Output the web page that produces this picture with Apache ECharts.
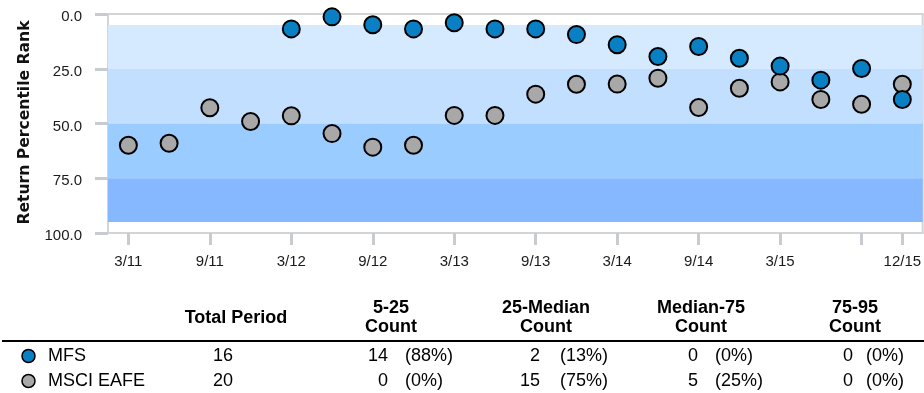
<!DOCTYPE html>
<html>
<head>
<meta charset="utf-8">
<script src="https://cdn.jsdelivr.net/npm/echarts@6/dist/echarts.min.js"></script>
<style>
html,body{margin:0;padding:0;background:#fff;}
#chart{width:924px;height:393px;}
</style>
</head>
<body>
<div id="chart"></div>
<script>
// ---- data ----
const quarters = ['3/11','6/11','9/11','12/11','3/12','6/12','9/12','12/12','3/13','6/13','9/13','12/13','3/14','6/14','9/14','12/14','3/15','6/15','9/15','12/15'];
const msciEafe = [59.9, 59.0, 42.8, 49.1, 46.5, 54.6, 60.8, 59.9, 46.3, 46.3, 36.6, 32.1, 32.0, 29.3, 42.7, 33.9, 31.0, 39.0, 41.2, 32.1];
const mfs = ['-', '-', '-', '-', 6.8, 1.3, 4.9, 6.8, 4.0, 6.8, 6.8, 9.4, 14.0, 19.4, 14.8, 20.2, 23.8, 30.2, 24.9, 39.0];
const seriesNames = ['MFS', 'MSCI EAFE'];
const bandEdges = [5, 25, 50, 75, 95];
const yMin = 0, yMax = 100, yStep = 25;
const tableHeaders = [['Total Period'], ['5-25', 'Count'], ['25-Median', 'Count'], ['Median-75', 'Count'], ['75-95', 'Count']];
const totalPeriod = [16, 20];
const countValues = [[14, 2, 0, 0], [0, 15, 5, 0]];
const countPercents = [['(88%)', '(13%)', '(0%)', '(0%)'], ['(0%)', '(75%)', '(25%)', '(0%)']];

// ---- styles / layout ----
const FONT = "'Liberation Sans', Arial, sans-serif";
const bandColors = ['#D5E9FF', '#C2DFFF', '#9ACCFF', '#85B8FF'];
const seriesColors = ['#0A80C4', '#A8A8A8'];
const axisGray = '#D2D4D6';
const tickGray = '#C8CCD0';

const bands = [];
for (let i = 0; i < bandEdges.length - 1; i++) {
  bands.push([{ yAxis: bandEdges[i], itemStyle: { color: bandColors[i] } }, { yAxis: bandEdges[i + 1] }]);
}

// ---- table graphics ----
const g = [];
function txt(text, x, y, align, bold) {
  g.push({ type: 'text', x: x, y: y, silent: true,
    style: { text: String(text), fill: '#000', font: (bold ? 'bold ' : '') + '18px ' + FONT, align: align, verticalAlign: 'middle' } });
}
const headerCx = [236, 391, 546, 701, 855];
tableHeaders.forEach((h, i) => {
  if (h.length === 1) txt(h[0], headerCx[i], 318, 'center', true);
  else { txt(h[0], headerCx[i], 308, 'center', true); txt(h[1], headerCx[i], 327, 'center', true); }
});
g.push({ type: 'line', silent: true, shape: { x1: 2, y1: 341, x2: 924, y2: 341 }, style: { stroke: '#000', lineWidth: 2 } });
const rowY = [356, 381];
const numRight = [388, 540, 698, 853];
const pctLeft = [405, 560, 715, 866];
seriesNames.forEach((name, r) => {
  g.push({ type: 'circle', silent: true, shape: { cx: 28.5, cy: rowY[r], r: 6.5 }, style: { fill: seriesColors[r], stroke: '#000', lineWidth: 1.5 } });
  txt(name, 48, rowY[r], 'left', false);
  txt(totalPeriod[r], 223, rowY[r], 'center', false);
  countValues[r].forEach((v, c) => {
    txt(v, numRight[c], rowY[r], 'right', false);
    txt(countPercents[r][c], pctLeft[c], rowY[r], 'left', false);
  });
});
g.push({ type: 'text', x: 25, y: 122.5, rotation: Math.PI / 2, silent: true,
  style: { text: 'Return Percentile Rank', fill: '#111', font: "bold 15.6px 'DejaVu Sans', sans-serif", align: 'center', verticalAlign: 'middle' } });

const chart = echarts.init(document.getElementById('chart'));
chart.setOption({
  animation: false,
  grid: { left: 108, right: -2, top: 14, bottom: 160, show: true, borderColor: axisGray, borderWidth: 2 },
  xAxis: {
    type: 'category', data: quarters, boundaryGap: true, position: 'bottom',
    axisLine: { show: true, onZero: false, lineStyle: { color: axisGray, width: 2 } },
    axisTick: { show: true, alignWithLabel: true, length: 12, lineStyle: { color: tickGray, width: 3 },
      interval: (i) => i % 2 === 0 || i === quarters.length - 1 },
    axisLabel: { margin: 21, color: '#1a1a1a', fontSize: 15, fontFamily: FONT,
      interval: (i) => (i % 2 === 0 && i !== quarters.length - 2) || i === quarters.length - 1 },
    splitLine: { show: false }
  },
  yAxis: {
    type: 'value', inverse: true, min: yMin, max: yMax, interval: yStep,
    axisLine: { show: true, lineStyle: { color: axisGray, width: 2 } },
    axisTick: { show: true, length: 13, lineStyle: { color: tickGray, width: 3 } },
    axisLabel: { margin: 26, color: '#1a1a1a', fontSize: 15, fontFamily: FONT,
      formatter: (v) => '{a|' + Number(v).toFixed(1) + '}',
      rich: { a: { fontSize: 15, fontFamily: FONT, color: '#1a1a1a', padding: [6, 0, 0, 0] } } },
    splitLine: { show: true, lineStyle: { color: 'rgba(0,0,0,0)' } }
  },
  series: [
    { name: seriesNames[1], type: 'scatter', data: msciEafe, symbolSize: 17, z: 3, clip: false,
      itemStyle: { color: seriesColors[1], borderColor: '#000', borderWidth: 2, opacity: 1 } },
    { name: seriesNames[0], type: 'scatter', data: mfs, symbolSize: 17, z: 4, clip: false,
      itemStyle: { color: seriesColors[0], borderColor: '#000', borderWidth: 2, opacity: 1 },
      markArea: { silent: true, z: 1, data: bands, itemStyle: { opacity: 1 } } }
  ],
  graphic: g
});
</script>
</body>
</html>
